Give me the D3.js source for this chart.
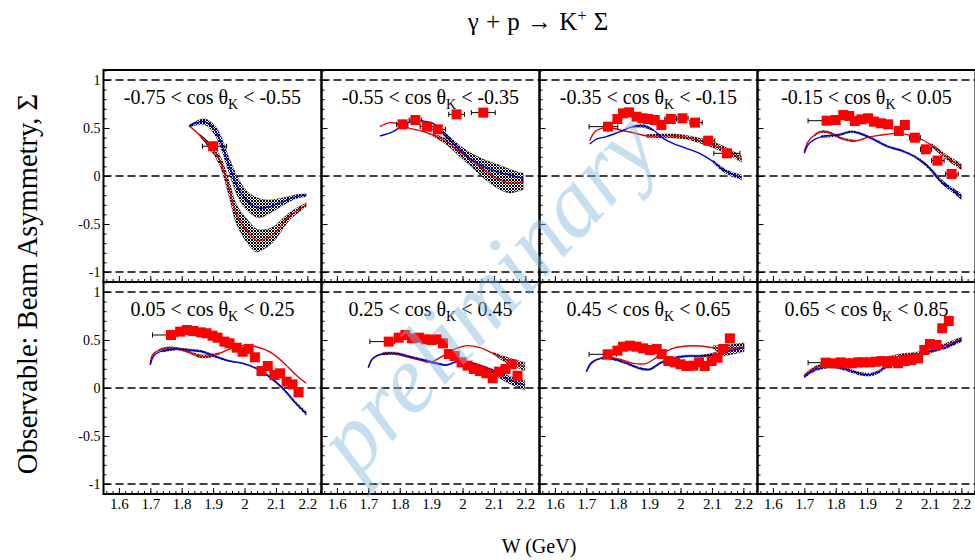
<!DOCTYPE html>
<html>
<head>
<meta charset="utf-8">
<script src="https://cdn.jsdelivr.net/npm/d3@7"></script>
<style>
  body { margin: 0; background: #fff; }
  text { font-family: "Liberation Serif", "DejaVu Serif", serif; }
</style>
</head>
<body>
<svg id="chart" width="975" height="560"></svg>
<script>
// cos(theta_K) bins, one panel per bin
const binEdges = [[-0.75, -0.55], [-0.55, -0.35], [-0.35, -0.15], [-0.15, 0.05],
                  [0.05, 0.25], [0.25, 0.45], [0.45, 0.65], [0.65, 0.85]];

// axis ticks
const wTicks = [1.6, 1.7, 1.8, 1.9, 2.0, 2.1, 2.2];
const wTickLabels = ["1.6", "1.7", "1.8", "1.9", "2", "2.1", "2.2"];
const sigmaTicks = [-1, -0.5, 0, 0.5, 1];
const sigmaTickLabels = ["-1", "-0.5", "0", "0.5", "1"];
const referenceLines = [-1, 0, 1];

// measured beam asymmetry per bin: [W, Sigma, W error low, W error high] (errors only where drawn)
const measured = [
  [[1.90, 0.31, 1.866, 1.943]],
  [[1.809, 0.538, 1.79, 1.826], [1.850, 0.583, 1.83, 1.87], [1.887, 0.514, 1.865, 1.91],
   [1.921, 0.486, 1.896, 1.946], [1.981, 0.642, 1.956, 2.006], [2.066, 0.66, 2.028, 2.104]],
  [[1.769, 0.514, 1.709, 1.80], [1.799, 0.594], [1.817, 0.653], [1.836, 0.663], [1.860, 0.618],
   [1.879, 0.601], [1.897, 0.594], [1.918, 0.583], [1.939, 0.531], [1.969, 0.594, 1.95, 1.987],
   [2.006, 0.601, 1.987, 2.024], [2.046, 0.556, 2.03, 2.069], [2.088, 0.368, 2.072, 2.109],
   [2.148, 0.236, 2.106, 2.189]],
  [[1.771, 0.576, 1.712, 1.80], [1.80, 0.583], [1.824, 0.635], [1.843, 0.625], [1.861, 0.573],
   [1.882, 0.59], [1.903, 0.601], [1.922, 0.566], [1.944, 0.549], [1.967, 0.538], [2.001, 0.469],
   [2.02, 0.531], [2.052, 0.399, 2.035, 2.07], [2.087, 0.278, 2.07, 2.105],
   [2.124, 0.16, 2.105, 2.145], [2.169, 0.021, 2.15, 2.19]],
  [[1.766, 0.552, 1.707, 1.786], [1.795, 0.587], [1.816, 0.604], [1.837, 0.594], [1.861, 0.58],
   [1.879, 0.57], [1.898, 0.545], [1.914, 0.524], [1.936, 0.483], [1.952, 0.465], [1.975, 0.42],
   [1.994, 0.378], [2.013, 0.406], [2.033, 0.32], [2.054, 0.177], [2.074, 0.229], [2.095, 0.135],
   [2.113, 0.153], [2.134, 0.066], [2.153, 0.038], [2.172, -0.045]],
  [[1.765, 0.483, 1.705, 1.784], [1.797, 0.524], [1.818, 0.552], [1.839, 0.517], [1.861, 0.524],
   [1.883, 0.507], [1.901, 0.5], [1.917, 0.507], [1.938, 0.465], [1.957, 0.354], [1.975, 0.333],
   [1.997, 0.267], [2.016, 0.233], [2.036, 0.198], [2.055, 0.177], [2.076, 0.153], [2.096, 0.101],
   [2.116, 0.17], [2.137, 0.198], [2.156, 0.247], [2.175, 0.128]],
  [[1.768, 0.351, 1.709, 1.796], [1.799, 0.389], [1.817, 0.43], [1.839, 0.441], [1.86, 0.43],
   [1.881, 0.413], [1.902, 0.396], [1.924, 0.406], [1.94, 0.354], [1.961, 0.281], [1.982, 0.267],
   [2.00, 0.247], [2.019, 0.229], [2.04, 0.233], [2.059, 0.267], [2.077, 0.229], [2.099, 0.281],
   [2.118, 0.316], [2.136, 0.406], [2.157, 0.517]],
  [[1.768, 0.264, 1.712, 1.792], [1.797, 0.257], [1.816, 0.267], [1.834, 0.257], [1.852, 0.257],
   [1.871, 0.267], [1.887, 0.267], [1.909, 0.267], [1.927, 0.274], [1.946, 0.281], [1.964, 0.257],
   [1.983, 0.281], [1.999, 0.257], [2.02, 0.281], [2.041, 0.292], [2.062, 0.309], [2.082, 0.396],
   [2.10, 0.458], [2.121, 0.448], [2.139, 0.622], [2.16, 0.698]]
];

// model predictions per bin (red solution): [W, Sigma, uncertainty half-width]
const modelRed = [
  [[1.824, 0.52, 0], [1.856, 0.43, 0.01], [1.888, 0.32, 0.03], [1.92, 0.17, 0.05], [1.952, -0.146, 0.08],
   [1.973, -0.39, 0.1], [2.005, -0.56, 0.12], [2.037, -0.67, 0.12], [2.05, -0.67, 0.11],
   [2.089, -0.615, 0.08], [2.143, -0.42, 0.04], [2.196, -0.30, 0.02]],
  [[1.737, 0.514, 0], [1.768, 0.556, 0], [1.8, 0.538, 0], [1.832, 0.496, 0], [1.864, 0.472, 0],
   [1.906, 0.427, 0.01], [1.949, 0.357, 0.03], [1.991, 0.253, 0.05], [2.034, 0.149, 0.07],
   [2.076, 0.045, 0.09], [2.119, -0.04, 0.1], [2.151, -0.076, 0.1], [2.193, -0.06, 0.08]],
  [[1.711, 0.368, 0], [1.727, 0.462, 0], [1.748, 0.496, 0], [1.775, 0.503, 0], [1.807, 0.479, 0],
   [1.849, 0.451, 0], [1.892, 0.417, 0.015], [1.934, 0.417, 0.02], [1.976, 0.417, 0.02],
   [2.019, 0.403, 0.02], [2.061, 0.368, 0.025], [2.104, 0.323, 0.03], [2.146, 0.264, 0.03],
   [2.194, 0.177, 0.03]],
  [[1.70, 0.253, 0], [1.712, 0.357, 0], [1.733, 0.427, 0.01], [1.755, 0.462, 0.01], [1.787, 0.444, 0.01],
   [1.818, 0.392, 0.01], [1.861, 0.364, 0.01], [1.903, 0.403, 0], [1.946, 0.427, 0], [1.999, 0.444, 0],
   [2.052, 0.41, 0], [2.105, 0.323, 0.015], [2.158, 0.184, 0.025], [2.20, 0.097, 0.03]],
  [[1.70, 0.24, 0], [1.707, 0.344, 0], [1.729, 0.396, 0.01], [1.76, 0.42, 0.01], [1.792, 0.406, 0.01],
   [1.824, 0.372, 0.01], [1.856, 0.333, 0.015], [1.888, 0.333, 0.015], [1.92, 0.361, 0.01],
   [1.952, 0.406, 0], [1.994, 0.441, 0], [2.037, 0.43, 0], [2.079, 0.378, 0], [2.121, 0.274, 0],
   [2.164, 0.135, 0], [2.196, 0.049, 0]],
  [[1.70, 0.212, 0], [1.715, 0.309, 0], [1.747, 0.361, 0.01], [1.779, 0.361, 0.01], [1.822, 0.326, 0.005],
   [1.864, 0.292, 0], [1.896, 0.267, 0], [1.928, 0.316, 0], [1.97, 0.396, 0], [2.013, 0.441, 0],
   [2.055, 0.42, 0], [2.097, 0.361, 0.01], [2.14, 0.292, 0.03], [2.182, 0.24, 0.04], [2.198, 0.222, 0.045]],
  [[1.70, 0.17, 0], [1.717, 0.257, 0], [1.743, 0.309, 0], [1.775, 0.32, 0], [1.807, 0.299, 0],
   [1.849, 0.257, 0], [1.892, 0.257, 0], [1.934, 0.344, 0], [1.976, 0.413, 0], [2.019, 0.437, 0],
   [2.061, 0.437, 0], [2.104, 0.42, 0.02], [2.146, 0.406, 0.04], [2.202, 0.43, 0.04]],
  [[1.70, 0.128, 0.01], [1.723, 0.188, 0.015], [1.755, 0.233, 0.02], [1.797, 0.247, 0.02],
   [1.839, 0.247, 0.02], [1.882, 0.267, 0.02], [1.925, 0.281, 0.02], [1.967, 0.309, 0.02],
   [2.01, 0.337, 0.02], [2.052, 0.351, 0.02], [2.094, 0.378, 0.02], [2.137, 0.43, 0.02],
   [2.179, 0.483, 0.02], [2.20, 0.51, 0.02]]
];

// model predictions per bin (blue solution): [W, Sigma, uncertainty half-width]
const modelBlue = [
  [[1.824, 0.52, 0.01], [1.872, 0.566, 0.03], [1.909, 0.46, 0.05], [1.952, 0.10, 0.08], [1.983, -0.146, 0.1],
   [2.015, -0.28, 0.1], [2.047, -0.335, 0.1], [2.079, -0.32, 0.07], [2.12, -0.27, 0.04],
   [2.164, -0.215, 0.02], [2.196, -0.20, 0.015]],
  [[1.737, 0.417, 0], [1.779, 0.462, 0], [1.811, 0.53, 0], [1.843, 0.573, 0], [1.875, 0.573, 0],
   [1.906, 0.549, 0], [1.938, 0.451, 0.02], [1.981, 0.306, 0.04], [2.023, 0.184, 0.06],
   [2.066, 0.104, 0.07], [2.108, 0.045, 0.08], [2.151, 0.01, 0.06], [2.193, -0.024, 0.05]],
  [[1.711, 0.333, 0], [1.732, 0.385, 0], [1.764, 0.41, 0], [1.807, 0.462, 0], [1.849, 0.514, 0.01],
   [1.881, 0.521, 0.015], [1.913, 0.479, 0.01], [1.945, 0.392, 0], [1.976, 0.34, 0], [2.019, 0.288, 0],
   [2.061, 0.236, 0], [2.104, 0.149, 0.015], [2.146, 0.045, 0.02], [2.194, -0.014, 0.025]],
  [[1.70, 0.236, 0], [1.716, 0.34, 0], [1.755, 0.41, 0.01], [1.808, 0.427, 0.01], [1.85, 0.462, 0.01],
   [1.882, 0.437, 0.01], [1.925, 0.375, 0.01], [1.967, 0.306, 0.01], [2.01, 0.264, 0.01],
   [2.052, 0.201, 0.01], [2.094, 0.097, 0.015], [2.137, -0.06, 0.02], [2.179, -0.163, 0.025],
   [2.20, -0.215, 0.03]],
  [[1.70, 0.24, 0], [1.713, 0.344, 0], [1.739, 0.385, 0.01], [1.782, 0.406, 0.01], [1.824, 0.396, 0.01],
   [1.867, 0.378, 0.01], [1.909, 0.326, 0.01], [1.952, 0.281, 0.005], [1.994, 0.257, 0.005],
   [2.037, 0.205, 0.005], [2.079, 0.118, 0.01], [2.121, -0.003, 0.01], [2.164, -0.16, 0.015],
   [2.196, -0.264, 0.02]],
  [[1.70, 0.212, 0], [1.715, 0.309, 0], [1.747, 0.354, 0.01], [1.79, 0.361, 0.01], [1.832, 0.326, 0.01],
   [1.875, 0.292, 0.01], [1.917, 0.257, 0.01], [1.949, 0.24, 0.005], [1.981, 0.274, 0.005],
   [2.023, 0.267, 0.005], [2.066, 0.222, 0.01], [2.108, 0.153, 0.03], [2.151, 0.083, 0.04],
   [2.198, 0.031, 0.05]],
  [[1.70, 0.17, 0], [1.717, 0.267, 0], [1.748, 0.309, 0.01], [1.785, 0.302, 0.01], [1.828, 0.257, 0.01],
   [1.87, 0.205, 0.01], [1.902, 0.194, 0.01], [1.934, 0.257, 0.01], [1.976, 0.309, 0.01],
   [2.019, 0.333, 0.01], [2.061, 0.333, 0.01], [2.104, 0.344, 0.02], [2.146, 0.378, 0.04],
   [2.202, 0.42, 0.04]],
  [[1.70, 0.115, 0.01], [1.723, 0.17, 0.015], [1.755, 0.212, 0.015], [1.797, 0.222, 0.015],
   [1.839, 0.188, 0.015], [1.882, 0.146, 0.015], [1.914, 0.142, 0.015], [1.946, 0.188, 0.015],
   [1.978, 0.267, 0.015], [2.02, 0.302, 0.015], [2.062, 0.344, 0.015], [2.105, 0.385, 0.015],
   [2.147, 0.42, 0.015], [2.20, 0.50, 0.015]]
];

// ---- layout ----
const svg = d3.select("#chart");
const gridLeft = 103.5, gridTop = 70;
const panelW = 218, panelH = 212;
const nCols = 4;
const wDomain = [1.551, 2.245];
const sDomain = [-1.104, 1.104];
const serif = '"Liberation Serif", "DejaVu Serif", serif';

// cross-hatch fill for model uncertainty bands
const defs = svg.append("defs");
const pat = defs.append("pattern")
  .attr("id", "hatch").attr("patternUnits", "userSpaceOnUse")
  .attr("width", 3).attr("height", 3);
pat.append("rect").attr("width", 3).attr("height", 3).attr("fill", "#fff");
pat.append("path").attr("d", "M0,0L3,3M3,0L0,3")
  .attr("stroke", "#000").attr("stroke-width", 1);

binEdges.forEach((edges, i) => {
  const col = i % nCols, row = Math.floor(i / nCols);
  const x0 = gridLeft + col * panelW, y0 = gridTop + row * panelH;
  const x = d3.scaleLinear().domain(wDomain).range([x0, x0 + panelW]);
  const y = d3.scaleLinear().domain(sDomain).range([y0 + panelH, y0]);
  const g = svg.append("g").attr("class", "panel");

  const clipId = "clip" + i;
  defs.append("clipPath").attr("id", clipId)
    .append("rect").attr("x", x0).attr("y", y0).attr("width", panelW).attr("height", panelH);
  const plot = g.append("g").attr("clip-path", `url(#${clipId})`);

  // dashed reference lines
  plot.selectAll("line.ref").data(referenceLines).join("line")
    .attr("class", "ref")
    .attr("x1", x0).attr("x2", x0 + panelW)
    .attr("y1", d => y(d)).attr("y2", d => y(d))
    .attr("stroke", "#000").attr("stroke-width", 1.3)
    .attr("stroke-dasharray", "8,4");

  // uncertainty bands of both model solutions
  const band = d3.area()
    .defined(d => d[2] > 0)
    .x(d => x(d[0])).y0(d => y(d[1] - d[2])).y1(d => y(d[1] + d[2]))
    .curve(d3.curveCatmullRom);
  [modelRed[i], modelBlue[i]].forEach(m => {
    plot.append("path").datum(m).attr("d", band)
      .attr("fill", "url(#hatch)").attr("stroke", "#000").attr("stroke-width", 0.6)
      .attr("stroke-opacity", 0.6);
  });

  // model curves
  const line = d3.line().x(d => x(d[0])).y(d => y(d[1])).curve(d3.curveCatmullRom);
  plot.append("path").datum(modelRed[i]).attr("d", line)
    .attr("fill", "none").attr("stroke", "#e00000").attr("stroke-width", 1.4);
  plot.append("path").datum(modelBlue[i]).attr("d", line)
    .attr("fill", "none").attr("stroke", "#0000e0").attr("stroke-width", 1.4);

  // horizontal error bars with end caps
  const withErr = measured[i].filter(d => d.length > 2);
  const eb = plot.selectAll("g.err").data(withErr).join("g").attr("class", "err")
    .attr("stroke", "#000").attr("stroke-width", 1);
  eb.append("line").attr("x1", d => x(d[2])).attr("x2", d => x(d[3]))
    .attr("y1", d => y(d[1])).attr("y2", d => y(d[1]));
  eb.append("line").attr("x1", d => x(d[2])).attr("x2", d => x(d[2]))
    .attr("y1", d => y(d[1]) - 2.5).attr("y2", d => y(d[1]) + 2.5);
  eb.append("line").attr("x1", d => x(d[3])).attr("x2", d => x(d[3]))
    .attr("y1", d => y(d[1]) - 2.5).attr("y2", d => y(d[1]) + 2.5);

  // data markers
  const sq = 10;
  plot.selectAll("rect.pt").data(measured[i]).join("rect")
    .attr("class", "pt")
    .attr("x", d => x(d[0]) - sq / 2).attr("y", d => y(d[1]) - sq / 2)
    .attr("width", sq).attr("height", sq).attr("fill", "#ff0000");

  // axes: ticks drawn inside the frame
  const yMinor = d3.range(-11, 12).map(v => v / 10);
  const yAxisMinor = d3.axisLeft(y).tickValues(yMinor).tickSize(-3).tickFormat("");
  g.append("g").attr("transform", `translate(${x0},0)`).call(yAxisMinor)
    .call(a => a.select(".domain").remove());
  const yAxis = d3.axisLeft(y).tickValues(sigmaTicks).tickSize(-6).tickPadding(3)
    .tickFormat((d, k) => col === 0 ? sigmaTickLabels[k] : "");
  g.append("g").attr("transform", `translate(${x0},0)`).call(yAxis)
    .call(a => a.select(".domain").remove())
    .call(a => a.selectAll("text").attr("font-family", serif).attr("font-size", 14).attr("fill", "#000"));

  const xMinor = d3.range(78, 113).map(v => v / 50);
  const xAxisMinor = d3.axisBottom(x).tickValues(xMinor).tickSize(-3).tickFormat("");
  g.append("g").attr("transform", `translate(0,${y0 + panelH})`).call(xAxisMinor)
    .call(a => a.select(".domain").remove());
  const xAxis = d3.axisBottom(x).tickValues(wTicks).tickSize(-6).tickPadding(4)
    .tickFormat((d, k) => row === 1 ? wTickLabels[k] : "");
  g.append("g").attr("transform", `translate(0,${y0 + panelH})`).call(xAxis)
    .call(a => a.select(".domain").remove())
    .call(a => a.selectAll("text").attr("font-family", serif).attr("font-size", 15).attr("fill", "#000"));

  // frame
  g.append("rect").attr("x", x0).attr("y", y0).attr("width", panelW).attr("height", panelH)
    .attr("fill", "none").attr("stroke", "#000").attr("stroke-width", 2);

  // bin label
  const fmt = v => v.toFixed(2);
  const lab = g.append("text")
    .attr("x", x0 + panelW / 2).attr("y", y0 + 34)
    .attr("text-anchor", "middle").attr("font-size", 20).attr("fill", "#000");
  lab.append("tspan").text(`${fmt(edges[0])} < cos θ`);
  lab.append("tspan").attr("dy", 5).attr("font-size", 14).text("K");
  lab.append("tspan").attr("dy", -5).text(` < ${fmt(edges[1])}`);
});

// reaction title
const title = svg.append("text").attr("x", 538).attr("y", 30)
  .attr("text-anchor", "middle").attr("font-size", 25).attr("fill", "#000")
  .attr("word-spacing", 1);
title.append("tspan").text("γ + p → K");
title.append("tspan").attr("dy", -9).attr("font-size", 16).text("+");
title.append("tspan").attr("dy", 9).text(" Σ");

// axis titles
svg.append("text").attr("x", 539).attr("y", 553)
  .attr("text-anchor", "middle").attr("font-size", 20).attr("fill", "#000")
  .text("W (GeV)");
svg.append("text")
  .attr("transform", "translate(37,284) rotate(-90)")
  .attr("text-anchor", "middle").attr("font-size", 28.5).attr("fill", "#000")
  .text("Observable: Beam Asymmetry, Σ");

// watermark
svg.append("text")
  .attr("transform", "translate(510,315) rotate(-47)")
  .attr("text-anchor", "middle")
  .attr("font-size", 96).attr("font-style", "italic")
  .attr("fill", "#7fb8e0").attr("fill-opacity", 0.45)
  .text("preliminary");
</script>
</body>
</html>
